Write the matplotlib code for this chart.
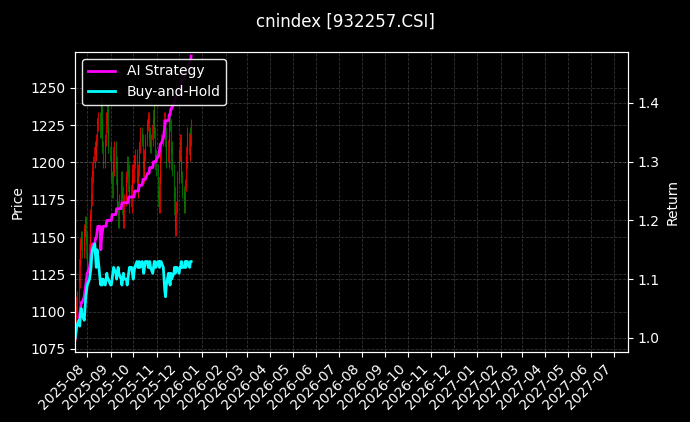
import matplotlib
matplotlib.use("Agg")
import matplotlib.pyplot as plt
import matplotlib.dates as mdates
import pandas as pd
import numpy as np

closes = [1085,1100,1110,1120,1135,1145,1150,1140,1155,1160,1150,1135,
          1130,1145,1165,1175,1190,1200,1210,1205,1215,1225,1230,1220,1240,1225,1210,1200,1215,1230,1235,1220,1210,
          1200,1190,1180,1195,1210,1200,1185,1170,1160,1175,1190,1180,1165,1160,1175,1190,1200,1195,1180,1170,1185,1195,
          1190,1200,1205,1190,1180,1195,1210,1220,1215,1200,1190,1205,1215,1225,1230,1220,1210,1215,1225,1235,1220,1205,1195,
          1180,1170,1190,1205,1215,1225,1230,1220,1210,1200,1215,1230,1225,1210,1195,1180,1165,1155,1170,1190,
          1205,1215,1200,1190,1180,1170,1185,1200,1210,1220,1205,1215,1225]
first_open = 1115
strategy = [1.0,1.01,1.02,1.03,1.04,1.05,1.06,1.06,1.07,1.08,1.09,1.10,
            1.11,1.12,1.13,1.14,1.15,1.16,1.16,1.17,1.17,1.18,1.19,1.19,1.15,1.17,1.18,1.19,1.19,1.19,1.20,1.20,1.20,
            1.20,1.20,1.21,1.21,1.21,1.21,1.22,1.22,1.22,1.22,1.22,1.23,1.23,1.23,1.23,1.23,1.23,1.23,1.24,1.24,1.24,1.24,
            1.24,1.24,1.25,1.25,1.25,1.25,1.26,1.26,1.26,1.27,1.27,1.27,1.27,1.28,1.28,1.28,1.29,1.29,1.29,1.30,1.30,1.30,1.30,
            1.31,1.31,1.32,1.33,1.33,1.34,1.35,1.36,1.37,1.37,1.37,1.38,1.38,1.39,1.39,1.40,1.40,1.41,1.41,1.42,
            1.42,1.42,1.43,1.43,1.44,1.44,1.45,1.45,1.46,1.46,1.47,1.47,1.48]
buyhold = [1.0,1.01,1.02,1.03,1.02,1.04,1.05,1.04,1.03,1.05,1.07,1.08,
           1.09,1.10,1.11,1.12,1.14,1.15,1.16,1.14,1.12,1.15,1.14,1.10,1.09,1.10,1.09,1.10,1.09,1.10,1.11,1.10,1.10,
           1.09,1.09,1.10,1.11,1.12,1.11,1.10,1.11,1.12,1.11,1.10,1.09,1.10,1.11,1.10,1.10,1.09,1.10,1.11,1.12,1.12,1.11,
           1.10,1.11,1.12,1.13,1.12,1.12,1.13,1.12,1.13,1.12,1.11,1.12,1.13,1.13,1.12,1.12,1.13,1.12,1.11,1.12,1.13,1.13,1.12,
           1.13,1.13,1.12,1.13,1.13,1.12,1.10,1.08,1.07,1.09,1.11,1.10,1.09,1.11,1.10,1.11,1.12,1.11,1.12,1.12,
           1.11,1.12,1.12,1.13,1.12,1.12,1.13,1.12,1.13,1.13,1.12,1.13,1.13]

dates = pd.bdate_range("2025-07-16", periods=len(closes))
opens = [first_open] + closes[:-1]

plt.style.use("dark_background")
fig = plt.figure(figsize=(6.9, 4.22), dpi=100)
ax = fig.add_axes([0.109, 0.166, 0.801, 0.711])
ax.set_facecolor("black")
x = mdates.date2num(dates)
for xi, o, c in zip(x, opens, closes):
    col = "red" if c >= o else "green"
    lo, hi = min(o, c), max(o, c)
    ax.vlines(xi, lo - 4, hi + 4, color=col, linewidth=0.8, alpha=0.8)
    ax.bar(xi, hi - lo, bottom=lo, width=0.8, color=col, alpha=0.7)
ax.set_ylim(1073, 1274)
ax.set_xlim(mdates.datestr2num("2025-07-16"), mdates.datestr2num("2027-07-20"))
ax.set_ylabel("Price")
ax.xaxis.set_major_locator(mdates.MonthLocator())
ax.xaxis.set_major_formatter(mdates.DateFormatter("%Y-%m"))
plt.setp(ax.get_xticklabels(), rotation=45, ha="right")
ax.grid(True, linestyle="--", color="gray", alpha=0.4, linewidth=0.6)

ax2 = ax.twinx()
l1, = ax2.plot(dates, strategy, color="magenta", linewidth=2, label="AI Strategy")
l2, = ax2.plot(dates, buyhold, color="cyan", linewidth=2, label="Buy-and-Hold")
ax2.set_ylim(0.976, 1.487)
ax2.set_ylabel("Return")
ax2.grid(True, linestyle="--", color="gray", alpha=0.4, linewidth=0.6)
leg = ax2.legend(handles=[l1, l2], loc="upper left", facecolor="black", edgecolor="white", framealpha=0.9)
fig.suptitle("cnindex [932257.CSI]", y=0.97)
fig.savefig("out.png", dpi=100, facecolor="black")
